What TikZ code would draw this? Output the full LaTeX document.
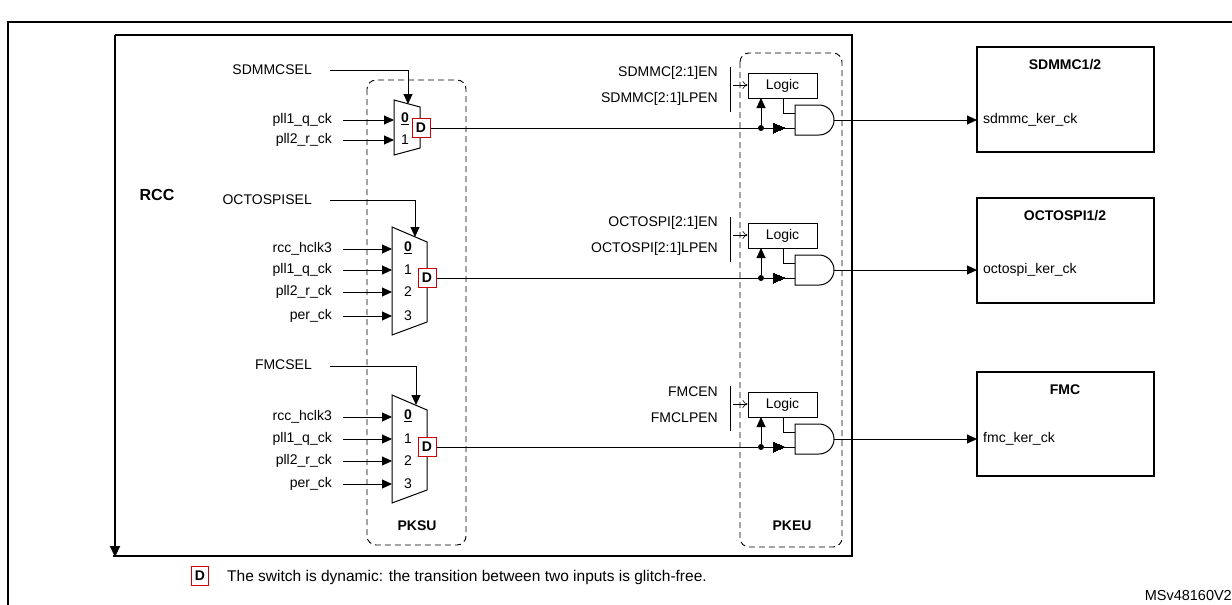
\documentclass[tikz,border=0pt]{standalone}
\usepackage{fontspec}
\setmainfont{Liberation Sans}
\usetikzlibrary{arrows.meta}
\begin{document}
\begin{tikzpicture}[x=1pt,y=-1pt,
  lbl/.style={font=\fontsize{14}{16}\selectfont,inner sep=0pt},
  blbl/.style={font=\fontsize{14}{16}\selectfont\bfseries,inner sep=0pt},
  thick frame/.style={line width=2.2pt},
  sig/.style={line width=0.9pt,-{Triangle[length=10pt,width=9pt]}},
  wire/.style={line width=0.9pt},
  dbox/.style={draw=red!80!black,line width=1pt,minimum width=18pt,minimum height=19pt,inner sep=0pt,fill=white,font=\fontsize{14}{15}\selectfont\bfseries},
  grp/.style={draw,line width=0.9pt,dash pattern=on 6pt off 4pt,rounded corners=9pt},
  logic/.style={draw,line width=0.9pt,minimum width=69pt,minimum height=25pt,inner sep=0pt,font=\fontsize{14}{16}\selectfont},
  periph/.style={draw,line width=2pt},
  dot/.style={circle,fill,inner sep=0pt,minimum size=6pt}
]
\useasboundingbox (0,0) rectangle (1232,605);
% outer frame
\draw[line width=2pt] (8,620) -- (8,22) -- (1260,22);
% RCC frame
\draw[thick frame] (115,35) -- (852,35) -- (852,556) -- (113,556);
\draw[thick frame,-{Triangle[length=11pt,width=10pt]}] (115,35) -- (115,557);
\node[font=\fontsize{16}{18}\selectfont\bfseries] (rcc) at (157,195) {RCC};
% groups
\draw[grp] (367,80) rectangle (466,545);
\node[blbl] (pksu) at (417,526) {PKSU};
\draw[grp] (740,53) rectangle (842,547);
\node[blbl] (pkeu) at (792,526) {PKEU};

% ---- mux 1
\draw[line width=1pt,fill=white] (394,100) -- (420,107) -- (420,148) -- (394,155) -- cycle;
\coordinate (m1t) at (408,104);
\node[lbl,anchor=east] (s1) at (312,70) {SDMMCSEL};
\coordinate (s1c) at (408,70);
\draw[sig] (330,70) -- (s1c) -- (m1t);
\node[lbl,anchor=east] (a1) at (332,120) {pll1\_q\_ck};
\node[lbl,anchor=east] (b1) at (332,140) {pll2\_r\_ck};
\coordinate (a1e) at (394,120); \coordinate (b1e) at (394,140);
\draw[sig] (343,120) -- (a1e);
\draw[sig] (343,140) -- (b1e);
\node[blbl] (n10) at (405,119) {\underline{0}};
\node[lbl] (n11) at (405,140) {1};
\node[dbox] (d1) at (421,128) {D};

% ---- mux 2
\draw[line width=1pt,fill=white] (392,227) -- (427,242) -- (427,322) -- (392,335) -- cycle;
\coordinate (m2t) at (415,237);
\node[lbl,anchor=east] (s2) at (312,200) {OCTOSPISEL};
\coordinate (s2c) at (415,200);
\draw[sig] (330,200) -- (s2c) -- (m2t);
\foreach \t/\yy [count=\i] in {rcc\_hclk3/249,pll1\_q\_ck/270,pll2\_r\_ck/292,per\_ck/316}{
  \node[lbl,anchor=east] (i2\i) at (332,\yy) {\t};
  \coordinate (i2e\i) at (392,\yy);
  \draw[sig] (343,\yy) -- (i2e\i);
}
\node[blbl] (n20) at (408,248) {\underline{0}};
\node[lbl] (n21) at (408,270) {1};
\node[lbl] (n22) at (408,292) {2};
\node[lbl] (n23) at (408,316) {3};
\node[dbox] (d2) at (427,278) {D};

% ---- mux 3
\draw[line width=1pt,fill=white] (392,395) -- (427,410) -- (427,490) -- (392,503) -- cycle;
\coordinate (m3t) at (416,405);
\node[lbl,anchor=east] (s3) at (312,365) {FMCSEL};
\coordinate (s3c) at (416,366);
\draw[sig] (330,366) -- (s3c) -- (m3t);
\foreach \t/\yy [count=\i] in {rcc\_hclk3/417,pll1\_q\_ck/439,pll2\_r\_ck/461,per\_ck/484}{
  \node[lbl,anchor=east] (i3\i) at (332,\yy) {\t};
  \coordinate (i3e\i) at (392,\yy);
  \draw[sig] (343,\yy) -- (i3e\i);
}
\node[blbl] (n30) at (408,416) {\underline{0}};
\node[lbl] (n31) at (408,439) {1};
\node[lbl] (n32) at (408,461) {2};
\node[lbl] (n33) at (408,484) {3};
\node[dbox] (d3) at (427,447) {D};

% ---- PKEU groups
\foreach \O/\en/\lp/\ti/\ke/\bt/\bb/\g in {
   128/SDMMC[2:1]EN/SDMMC[2:1]LPEN/SDMMC1\slash 2/sdmmc\_ker\_ck/47/152/1,
   278/OCTOSPI[2:1]EN/OCTOSPI[2:1]LPEN/OCTOSPI1\slash 2/octospi\_ker\_ck/198/303/2,
   447/FMCEN/FMCLPEN/FMC/fmc\_ker\_ck/372/476/3}{
  \node[lbl,anchor=east] (en\g) at (718,\O-55) {\en};
  \node[lbl,anchor=east] (lp\g) at (718,\O-29) {\lp};
  \draw[wire] (730,\O-61) -- (730,\O-16);
  \node[logic] (lg\g) at (782.5,\O-42.5) {Logic};
  \draw[line width=0.6pt,-{To[length=5pt,width=8pt]}] (733,\O-43) -- (lg\g.west|-0,\O-43);
  % AND gate
  \draw[line width=1pt,fill=white] (795,\O-23) -- (819,\O-23) arc[start angle=-90,end angle=90,radius=15] -- (795,\O+7) -- cycle;
  \coordinate (and\g) at (834,\O-8);
  \coordinate (andl\g) at (795,\O);
  \node[dot] (dt\g) at (761,\O) {};
  \draw[wire] (d\g.east|-0,\O) -- (dt\g);
  \draw[wire] (dt\g) -- (andl\g);
  \draw[line width=0pt,fill] (773,\O-5) -- (785,\O) -- (773,\O+5) -- cycle;
  \draw[sig] (dt\g) -- (761,\O-30);
  \draw[wire] (783,\O-30) -- (783,\O-15) -- (795,\O-15);
  % peripheral
  \draw[periph] (977,\bt) rectangle (1154,\bb);
  \node[blbl] (t\g) at (1065,\bt+18) {\ti};
  \node[lbl,anchor=west] (k\g) at (983,\O-8) {\ke};
  \coordinate (pin\g) at (977,\O-8);
  \draw[sig] (and\g) -- (pin\g);
}
% footnote
\node[dbox,minimum width=17pt,minimum height=19pt,font=\fontsize{14}{15}\selectfont\bfseries] (dl) at (200,576) {D};
\node[lbl,anchor=west,font=\fontsize{15.5}{17}\selectfont] (note) at (227,577) {The switch is dynamic: the transition between two inputs is glitch-free.};
\node[lbl,anchor=east,font=\fontsize{14.5}{16}\selectfont] (ms) at (1232,596) {MSv48160V2};
\end{tikzpicture}
\end{document}
